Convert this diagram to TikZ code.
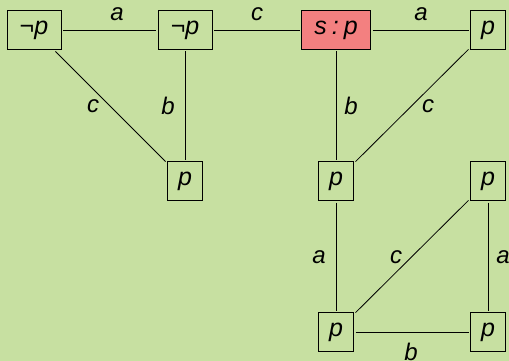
\documentclass[tikz,border=0pt]{standalone}
\usepackage{fontspec}
\setmainfont{Liberation Sans}
\definecolor{bg}{RGB}{199,224,161}
\definecolor{hl}{RGB}{243,128,128}
\begin{document}
\begin{tikzpicture}[x=1pt,y=-1pt,
  world/.style={draw, line width=0.9pt, minimum height=39pt, inner sep=0pt, outer sep=2pt, font=\fontsize{25}{30}\selectfont\itshape},
  lbl/.style={font=\fontsize{24}{29}\selectfont\itshape, inner sep=0pt},
  rel/.style={draw, line width=0.8pt}]
\fill[bg] (0,0) rectangle (509,361);
\useasboundingbox (0,0) rectangle (509,361);
\node[world, minimum width=54pt] (n1) at (34,30) {¬p};
\node[world, minimum width=54pt] (n2) at (185,30) {¬p};
\node[world, minimum width=69pt, fill=hl] (n3) at (336,30) {s\hspace{5pt}:\hspace{5pt}p};
\node[world, minimum width=35pt] (n4) at (488,30) {p};
\node[world, minimum width=35pt] (n5) at (185,181) {p};
\node[world, minimum width=35pt] (n6) at (336,181) {p};
\node[world, minimum width=35pt] (n7) at (488,181) {p};
\node[world, minimum width=35pt] (n8) at (336,332) {p};
\node[world, minimum width=35pt] (n9) at (488,332) {p};
\draw[rel] (n1) -- (n2);
\node[lbl] (la) at (117,14) {a};
\draw[rel] (n2) -- (n3);
\node[lbl] (lb) at (257,14) {c};
\draw[rel] (n3) -- (n4);
\node[lbl] (lc) at (421,14) {a};
\draw[rel] (n1) -- (n5);
\node[lbl] (ld) at (93,106) {c};
\draw[rel] (n2) -- (n5);
\node[lbl] (le) at (168,106) {b};
\draw[rel] (n3) -- (n6);
\node[lbl] (lf) at (351,106) {b};
\draw[rel] (n4) -- (n6);
\node[lbl] (lg) at (428,106) {c};
\draw[rel] (n6) -- (n8);
\node[lbl] (lh) at (319,257) {a};
\draw[rel] (n8) -- (n7);
\node[lbl] (li) at (396,257) {c};
\draw[rel] (n7) -- (n9);
\node[lbl] (lj) at (503,257) {a};
\draw[rel] (n8) -- (n9);
\node[lbl] (lk) at (411,352) {b};
\end{tikzpicture}
\end{document}
